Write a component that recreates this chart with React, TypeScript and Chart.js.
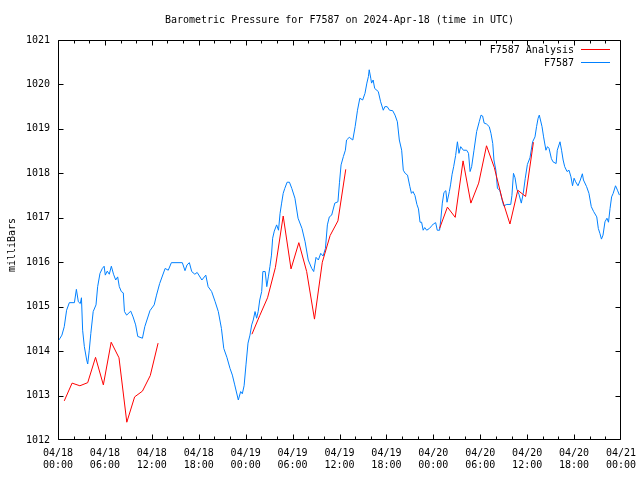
import { useEffect, useRef } from 'react';
import { Chart, registerables } from 'chart.js';

Chart.register(...registerables);

const TITLE = 'Barometric Pressure for F7587 on 2024-Apr-18 (time in UTC)';
const Y_LABEL = 'milliBars';
const SERIES_NAMES = ['F7587 Analysis', 'F7587'];

// x axis: hours since 2024-04-18 00:00 UTC
const X_TICK_HOURS = [0, 6, 12, 18, 24, 30, 36, 42, 48, 54, 60, 66, 72];
const X_TICK_DATES = ['04/18', '04/18', '04/18', '04/18', '04/19', '04/19', '04/19', '04/19', '04/20', '04/20', '04/20', '04/20', '04/21'];
const X_TICK_TIMES = ['00:00', '06:00', '12:00', '18:00', '00:00', '06:00', '12:00', '18:00', '00:00', '06:00', '12:00', '18:00', '00:00'];
const Y_TICKS = [1012, 1013, 1014, 1015, 1016, 1017, 1018, 1019, 1020, 1021];

// F7587 observations
const OBS_HOURS = [
  0.1, 0.26, 0.5, 0.8, 1.1, 1.45, 2.1, 2.35, 2.6, 2.85, 3.0, 3.15, 3.37, 3.67, 3.8, 4.0, 4.2, 4.5, 4.86, 5.07,
  5.37, 5.67, 5.9, 6.05, 6.3, 6.56, 6.82, 7.1, 7.38, 7.63, 7.84, 8.1, 8.35, 8.5, 8.78, 9.3, 9.6, 9.93, 10.2, 10.8,
  11.1, 11.76, 12.3, 12.6, 13.0, 13.7, 14.1, 14.5, 15.9, 16.24, 16.5, 16.8, 17.1, 17.5, 17.8, 18.4, 18.9, 19.2, 19.65, 20.1,
  20.5, 20.9, 21.2, 21.6, 22.0, 22.3, 22.6, 23.06, 23.36, 23.57, 23.8, 24.04, 24.3, 24.55, 24.77, 24.97, 25.2, 25.4, 25.6, 25.8,
  26.05, 26.2, 26.5, 26.7, 26.9, 27.1, 27.3, 27.45, 27.66, 27.96, 28.2, 28.4, 28.6, 28.8, 29.0, 29.3, 29.6, 29.9, 30.3, 30.7,
  31.2, 31.6, 32.0, 32.45, 32.7, 33.0, 33.3, 33.6, 33.9, 34.2, 34.45, 34.7, 35.0, 35.4, 35.8, 36.0, 36.2, 36.5, 36.75, 36.9,
  37.25, 37.7, 38.0, 38.3, 38.6, 38.96, 39.26, 39.5, 39.7, 39.8, 40.0, 40.1, 40.3, 40.5, 40.96, 41.26, 41.6, 41.8, 42.1, 42.4,
  42.8, 43.1, 43.4, 43.65, 43.95, 44.16, 44.4, 44.7, 45.0, 45.2, 45.4, 45.65, 45.9, 46.1, 46.3, 46.5, 46.7, 46.9, 47.15, 47.5,
  47.8, 48.0, 48.3, 48.5, 48.8, 48.95, 49.15, 49.36, 49.6, 49.75, 50.05, 50.2, 50.4, 50.6, 50.85, 51.08, 51.28, 51.5, 51.84, 52.26,
  52.5, 52.7, 52.9, 53.2, 53.54, 53.87, 54.1, 54.3, 54.5, 54.8, 55.15, 55.37, 55.6, 55.75, 56.0, 56.2, 56.5, 56.8, 57.0, 57.4,
  57.9, 58.05, 58.25, 58.45, 58.68, 58.95, 59.25, 59.5, 59.75, 60.03, 60.36, 60.7, 61.0, 61.2, 61.4, 61.55, 61.7, 61.9, 62.1, 62.4,
  62.6, 62.8, 63.1, 63.3, 63.7, 63.85, 64.2, 64.4, 64.6, 64.8, 65.1, 65.35, 65.6, 65.8, 66.0, 66.2, 66.5, 66.8, 67.06, 67.2,
  67.6, 67.9, 68.2, 68.5, 68.9, 69.1, 69.3, 69.5, 69.7, 69.95, 70.2, 70.4, 70.6, 70.8, 71.0, 71.3, 71.55, 71.8,
];
const OBS_VALUES = [
  1014.25, 1014.29, 1014.36, 1014.55, 1014.92, 1015.09, 1015.09, 1015.39, 1015.11, 1015.07, 1015.2, 1014.47, 1014.1, 1013.8, 1013.71, 1014.02, 1014.4, 1014.89, 1015.04, 1015.45,
  1015.75, 1015.86, 1015.91, 1015.71, 1015.8, 1015.73, 1015.91, 1015.73, 1015.6, 1015.67, 1015.45, 1015.34, 1015.31, 1014.89, 1014.81, 1014.9, 1014.77, 1014.59, 1014.33, 1014.29,
  1014.55, 1014.91, 1015.04, 1015.26, 1015.52, 1015.86, 1015.82, 1015.99, 1015.99, 1015.81, 1015.94, 1015.99, 1015.79, 1015.73, 1015.77, 1015.6, 1015.71, 1015.45, 1015.34, 1015.11,
  1014.89, 1014.51, 1014.06, 1013.86, 1013.61, 1013.46, 1013.24, 1012.9, 1013.09, 1013.04, 1013.22, 1013.69, 1014.18, 1014.36, 1014.59, 1014.7, 1014.89, 1014.74, 1014.89, 1015.15,
  1015.34, 1015.79, 1015.79, 1015.45, 1015.67, 1015.9, 1016.16, 1016.54, 1016.7, 1016.84, 1016.72, 1017.1, 1017.33, 1017.55, 1017.66, 1017.8, 1017.8, 1017.66, 1017.44, 1016.99,
  1016.76, 1016.46, 1016.05, 1015.86, 1015.79, 1016.11, 1016.05, 1016.2, 1016.14, 1016.31, 1016.84, 1017.02, 1017.06, 1017.33, 1017.36, 1017.8, 1018.19, 1018.38, 1018.52, 1018.75,
  1018.81, 1018.75, 1019.05, 1019.42, 1019.69, 1019.65, 1019.8, 1020.03, 1020.18, 1020.33, 1020.14, 1020.03, 1020.1, 1019.91, 1019.84, 1019.61, 1019.42, 1019.5, 1019.5, 1019.42,
  1019.41, 1019.31, 1019.16, 1018.75, 1018.52, 1018.07, 1018.0, 1017.96, 1017.7, 1017.55, 1017.59, 1017.5, 1017.3, 1017.2, 1016.9, 1016.9, 1016.72, 1016.78, 1016.72, 1016.76,
  1016.82, 1016.86, 1016.89, 1016.72, 1016.72, 1016.95, 1017.33, 1017.57, 1017.61, 1017.35, 1017.59, 1017.74, 1017.98, 1018.15, 1018.4, 1018.71, 1018.45, 1018.6, 1018.52, 1018.52,
  1018.45, 1018.04, 1018.15, 1018.52, 1018.94, 1019.16, 1019.31, 1019.29, 1019.13, 1019.11, 1019.05, 1018.9, 1018.67, 1018.3, 1018.07, 1017.66, 1017.62, 1017.4, 1017.27, 1017.3,
  1017.3, 1017.5, 1018.0, 1017.9, 1017.64, 1017.53, 1017.33, 1017.55, 1017.88, 1018.2, 1018.35, 1018.71, 1018.82, 1019.05, 1019.24, 1019.31, 1019.2, 1019.05, 1018.82, 1018.52,
  1018.6, 1018.56, 1018.33, 1018.26, 1018.22, 1018.52, 1018.71, 1018.52, 1018.3, 1018.15, 1018.04, 1018.07, 1017.92, 1017.72, 1017.89, 1017.81, 1017.72, 1017.85, 1017.99, 1017.85,
  1017.7, 1017.55, 1017.25, 1017.14, 1017.02, 1016.76, 1016.65, 1016.52, 1016.61, 1016.91, 1016.99, 1016.9, 1017.21, 1017.47, 1017.55, 1017.72, 1017.62, 1017.51,
];

// F7587 Analysis (hourly, three 12-hour runs; null = gap)
const ANALYSIS_HOURS = [
  0.8, 1.8, 2.8, 3.8, 4.8, 5.8, 6.8, 7.8, 8.8, 9.8, 10.8, 11.8, 12.8,
  18.0,
  24.8, 25.8, 26.8, 27.8, 28.8, 29.8, 30.8, 31.8, 32.8, 33.8, 34.8, 35.8, 36.8,
  42.0,
  48.8, 49.8, 50.8, 51.8, 52.8, 53.8, 54.8, 55.8, 56.8, 57.8, 58.8, 59.8, 60.8,
];
const ANALYSIS_VALUES = [
  1012.88, 1013.28, 1013.22, 1013.29, 1013.86, 1013.24, 1014.2, 1013.85, 1012.4, 1012.97, 1013.1, 1013.45, 1014.18,
  null,
  1014.38, 1014.8, 1015.2, 1015.88, 1017.04, 1015.85, 1016.44, 1015.79, 1014.72, 1016.0, 1016.6, 1016.93, 1018.09,
  null,
  1016.76, 1017.24, 1017.01, 1018.28, 1017.33, 1017.78, 1018.62, 1018.13, 1017.42, 1016.86, 1017.62, 1017.48, 1018.7,
];

const RED = 'rgb(255,0,0)';
const BLUE = 'rgb(0,128,255)';
const FONT = 'DejaVu Sans Mono';

const decorPlugin = {
  id: 'decor',
  afterDraw(chart: any) {
    const { ctx, chartArea: a, scales } = chart;
    const x = scales.x;
    const y = scales.y;
    const L = Math.round(a.left) + 0.5;
    const R = Math.round(a.right) - 0.5;
    const T = Math.round(a.top) + 0.5;
    const B = Math.round(a.bottom) - 0.5;
    ctx.save();
    ctx.strokeStyle = '#000';
    ctx.lineWidth = 1;
    ctx.beginPath();
    ctx.rect(L, T, R - L, B - T);
    // x ticks (major every 6h, minor every 2h), bottom and top, inward
    for (let h = 0; h <= 72; h += 2) {
      const px = Math.min(R, Math.max(L, Math.round(x.getPixelForValue(h)) + 0.5));
      const len = h % 6 === 0 ? 5 : 3;
      ctx.moveTo(px, B);
      ctx.lineTo(px, B - len);
      ctx.moveTo(px, T);
      ctx.lineTo(px, T + len);
    }
    // y ticks left and right
    for (const v of Y_TICKS) {
      const py = Math.min(B, Math.max(T, Math.round(y.getPixelForValue(v)) + 0.5));
      ctx.moveTo(L, py);
      ctx.lineTo(L + 5, py);
      ctx.moveTo(R, py);
      ctx.lineTo(R - 5, py);
    }
    ctx.stroke();

    ctx.fillStyle = '#000';
    ctx.font = `10px "${FONT}"`;
    ctx.textBaseline = 'middle';
    // title
    ctx.textAlign = 'center';
    ctx.fillText(TITLE, (a.left + a.right) / 2, 20);
    // y label
    ctx.save();
    ctx.translate(12, 245);
    ctx.rotate(-Math.PI / 2);
    ctx.fillText(Y_LABEL, 0, 0);
    ctx.restore();
    // legend
    ctx.textAlign = 'right';
    const colors = [RED, BLUE];
    SERIES_NAMES.forEach((name, i) => {
      const ly = 50 + i * 13;
      ctx.fillStyle = '#000';
      ctx.fillText(name, 574, ly);
      ctx.strokeStyle = colors[i];
      ctx.beginPath();
      ctx.moveTo(581, ly - 0.5);
      ctx.lineTo(610, ly - 0.5);
      ctx.stroke();
    });
    ctx.restore();
  },
};

export default function App() {
  const ref = useRef<HTMLCanvasElement | null>(null);

  useEffect(() => {
    if (!ref.current) return;
    const chart = new Chart(ref.current, {
      type: 'line',
      data: {
        datasets: [
          {
            label: SERIES_NAMES[0],
            data: ANALYSIS_HOURS.map((h, i) => ({ x: h, y: ANALYSIS_VALUES[i] as any })),
            borderColor: RED,
            backgroundColor: RED,
            borderWidth: 1,
            pointRadius: 0,
            tension: 0,
            spanGaps: false,
          },
          {
            label: SERIES_NAMES[1],
            data: OBS_HOURS.map((h, i) => ({ x: h, y: OBS_VALUES[i] })),
            borderColor: BLUE,
            backgroundColor: BLUE,
            borderWidth: 1,
            pointRadius: 0,
            tension: 0,
          },
        ],
      },
      options: {
        responsive: false,
        animation: false,
        events: [],
        layout: { padding: { left: 0, right: 19, top: 40, bottom: 0 } },
        plugins: {
          legend: { display: false },
          title: { display: false },
          tooltip: { enabled: false },
        },
        scales: {
          x: {
            type: 'linear',
            min: 0,
            max: 72,
            grid: { display: false, drawTicks: false },
            border: { display: false },
            afterBuildTicks: (s: any) => {
              s.ticks = X_TICK_HOURS.map((v) => ({ value: v }));
            },
            afterFit: (s: any) => {
              s.height = 40;
              s.paddingLeft = 0;
              s.paddingRight = 0;
            },
            ticks: {
              autoSkip: false,
              maxRotation: 0,
              minRotation: 0,
              padding: 8,
              color: '#000',
              font: { family: FONT, size: 10, lineHeight: 1.15 },
              callback: (v: any) => {
                const i = X_TICK_HOURS.indexOf(Number(v));
                return i >= 0 ? [X_TICK_DATES[i], X_TICK_TIMES[i]] : '';
              },
            },
          },
          y: {
            type: 'linear',
            min: 1012,
            max: 1021,
            grid: { display: false, drawTicks: false },
            border: { display: false },
            afterBuildTicks: (s: any) => {
              s.ticks = Y_TICKS.map((v) => ({ value: v }));
            },
            afterFit: (s: any) => {
              s.width = 58;
              s.paddingTop = 0;
              s.paddingBottom = 0;
            },
            ticks: {
              autoSkip: false,
              padding: 8,
              color: '#000',
              font: { family: FONT, size: 10 },
              callback: (v: any) => String(v),
            },
          },
        },
      },
      plugins: [decorPlugin],
    });
    return () => chart.destroy();
  }, []);

  return (
    <div style={{ position: 'absolute', left: 0, top: 0, width: 640, height: 480, background: '#fff' }}>
      <canvas ref={ref} width={640} height={480} style={{ display: 'block', width: 640, height: 480 }} />
    </div>
  );
}
